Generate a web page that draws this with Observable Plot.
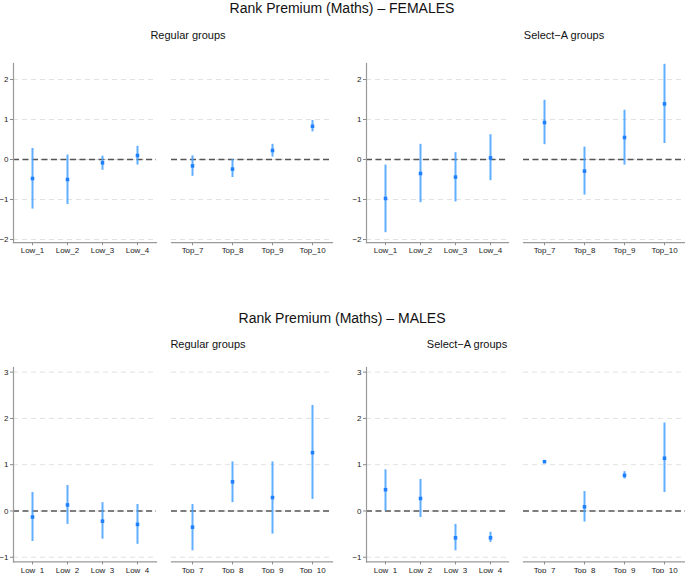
<!DOCTYPE html>
<html>
<head>
<meta charset="utf-8">
<script src="https://cdn.jsdelivr.net/npm/d3@7"></script>
<script src="https://cdn.jsdelivr.net/npm/@observablehq/plot@0.6"></script>
<style>
  html, body { margin: 0; padding: 0; background: #fff; }
  #c { position: relative; width: 685px; height: 573px; overflow: hidden; background: #fff;
       font-family: "Liberation Sans", Arial, Helvetica, sans-serif; color: #111; }
  .t { position: absolute; transform: translateX(-50%); white-space: nowrap; line-height: 1; }
  .main { font-size: 14px; }
  .sub { font-size: 11px; }
</style>
</head>
<body>
<div id="c"></div>
<script>
// ---- data ----
const lowCats = ["Low_1", "Low_2", "Low_3", "Low_4"];
const topCats = ["Top_7", "Top_8", "Top_9", "Top_10"];

const femalesTicks = [-2, -1, 0, 1, 2];
const malesTicks = [-1, 0, 1, 2, 3];

// FEMALES – Regular groups
const fRegLowEst = [-0.475, -0.5, -0.083, 0.1];
const fRegLowLo  = [-1.24, -1.125, -0.27, -0.14];
const fRegLowHi  = [0.275, 0.11, 0.083, 0.33];
const fRegTopEst = [-0.16, -0.24, 0.225, 0.83];
const fRegTopLo  = [-0.42, -0.45, 0.06, 0.69];
const fRegTopHi  = [0.09, 0.0, 0.38, 0.975];
// FEMALES – Select-A groups
const fSelLowEst = [-0.975, -0.35, -0.44, 0.04];
const fSelLowLo  = [-1.83, -1.08, -1.06, -0.53];
const fSelLowHi  = [-0.14, 0.38, 0.17, 0.62];
const fSelTopEst = [0.925, -0.29, 0.55, 1.39];
const fSelTopLo  = [0.37, -0.89, -0.14, 0.4];
const fSelTopHi  = [1.48, 0.31, 1.23, 2.38];
// MALES – Regular groups
const mRegLowEst = [-0.13, 0.13, -0.22, -0.29];
const mRegLowLo  = [-0.66, -0.29, -0.61, -0.72];
const mRegLowHi  = [0.4, 0.55, 0.18, 0.14];
const mRegTopEst = [-0.35, 0.63, 0.29, 1.26];
const mRegTopLo  = [-0.86, 0.18, -0.5, 0.25];
const mRegTopHi  = [0.14, 1.06, 1.06, 2.28];
// MALES – Select-A groups
const mSelLowEst = [0.46, 0.27, -0.58, -0.58];
const mSelLowLo  = [0.0, -0.14, -0.86, -0.68];
const mSelLowHi  = [0.89, 0.68, -0.29, -0.46];
const mSelTopEst = [1.065, 0.09, 0.77, 1.14];
const mSelTopLo  = [1.05, -0.24, 0.69, 0.4];
const mSelTopHi  = [1.08, 0.42, 0.85, 1.9];

// ---- layout ----
const C = document.getElementById("c");
function text(cls, str, x, y) {
  const d = document.createElement("div");
  d.className = "t " + cls;
  d.textContent = str;
  d.style.left = x + "px";
  d.style.top = y + "px";
  C.appendChild(d);
}

function rowsOf(cats, est, lo, hi) {
  return cats.map((c, i) => ({cat: c, est: est[i], lo: lo[i], hi: hi[i]}));
}

function panel(cats, est, lo, hi, dom, ticks, yAxis, L, R, T, B) {
  const rows = rowsOf(cats, est, lo, hi);
  const mL = yAxis ? 14 : 0, mR = 0, mT = 3, mB = 20;
  const chart = Plot.plot({
    width: R - L + mL + mR,
    height: B - T + mT + mB,
    marginLeft: mL, marginRight: mR, marginTop: mT, marginBottom: mB,
    x: {type: "point", domain: cats, padding: 0.5, align: 0.5},
    y: yAxis ? {domain: dom} : {domain: dom, axis: null},
    style: {fontFamily: "'Liberation Sans', Arial, Helvetica, sans-serif", fontSize: "8px",
            background: "transparent", overflow: "visible", color: "#222"},
    marks: [
      Plot.gridY(ticks, {stroke: "#e2e2e2", strokeOpacity: 1, strokeDasharray: "5,4"}),
      Plot.ruleY([0], {stroke: "#555", strokeWidth: 1.4, strokeDasharray: "6,3.5"}),
      Plot.ruleX(rows, {x: "cat", y1: "lo", y2: "hi", stroke: "#45a0ff", strokeWidth: 2, strokeOpacity: 0.85}),
      Plot.dot(rows, {x: "cat", y: "est", symbol: "square", r: 2, fill: "#1f80ff", stroke: "none"}),
      Plot.axisX({tickSize: 3, tickPadding: 2, label: null, fontSize: 8, stroke: "#888"}),
      Plot.frame({anchor: "bottom", stroke: "#999", strokeWidth: 1.2}),
      yAxis ? Plot.axisY(ticks, {tickSize: 3, tickPadding: 2, label: null, fontSize: 8, stroke: "#888"}) : null,
      yAxis ? Plot.frame({anchor: "left", stroke: "#999", strokeWidth: 1.2}) : null
    ]
  });
  chart.style.position = "absolute";
  chart.style.left = (L - mL) + "px";
  chart.style.top = (T - mT) + "px";
  C.appendChild(chart);
}

// FEMALES row
text("main", "Rank Premium (Maths) – FEMALES", 342, 1);
text("sub", "Regular groups", 188, 30);
text("sub", "Select−A groups", 564, 30);
const fDom = [-2.08, 2.4];
const fT = 63.3, fB = 242.5;
panel(lowCats, fRegLowEst, fRegLowLo, fRegLowHi, fDom, femalesTicks, true, 13, 156, fT, fB);
panel(topCats, fRegTopEst, fRegTopLo, fRegTopHi, fDom, femalesTicks, false, 171, 332, fT, fB);
panel(lowCats, fSelLowEst, fSelLowLo, fSelLowHi, fDom, femalesTicks, true, 366, 508, fT, fB);
panel(topCats, fSelTopEst, fSelTopLo, fSelTopHi, fDom, femalesTicks, false, 523, 685, fT, fB);

// MALES row
text("main", "Rank Premium (Maths) – MALES", 342, 311);
text("sub", "Regular groups", 208, 339);
text("sub", "Select−A groups", 467, 339);
const mDom = [-1.1, 3.1];
const mT = 366.8, mB = 561.2;
panel(lowCats, mRegLowEst, mRegLowLo, mRegLowHi, mDom, malesTicks, true, 13, 156, mT, mB);
panel(topCats, mRegTopEst, mRegTopLo, mRegTopHi, mDom, malesTicks, false, 171, 332, mT, mB);
panel(lowCats, mSelLowEst, mSelLowLo, mSelLowHi, mDom, malesTicks, true, 366, 508, mT, mB);
panel(topCats, mSelTopEst, mSelTopLo, mSelTopHi, mDom, malesTicks, false, 523, 685, mT, mB);
</script>
</body>
</html>
